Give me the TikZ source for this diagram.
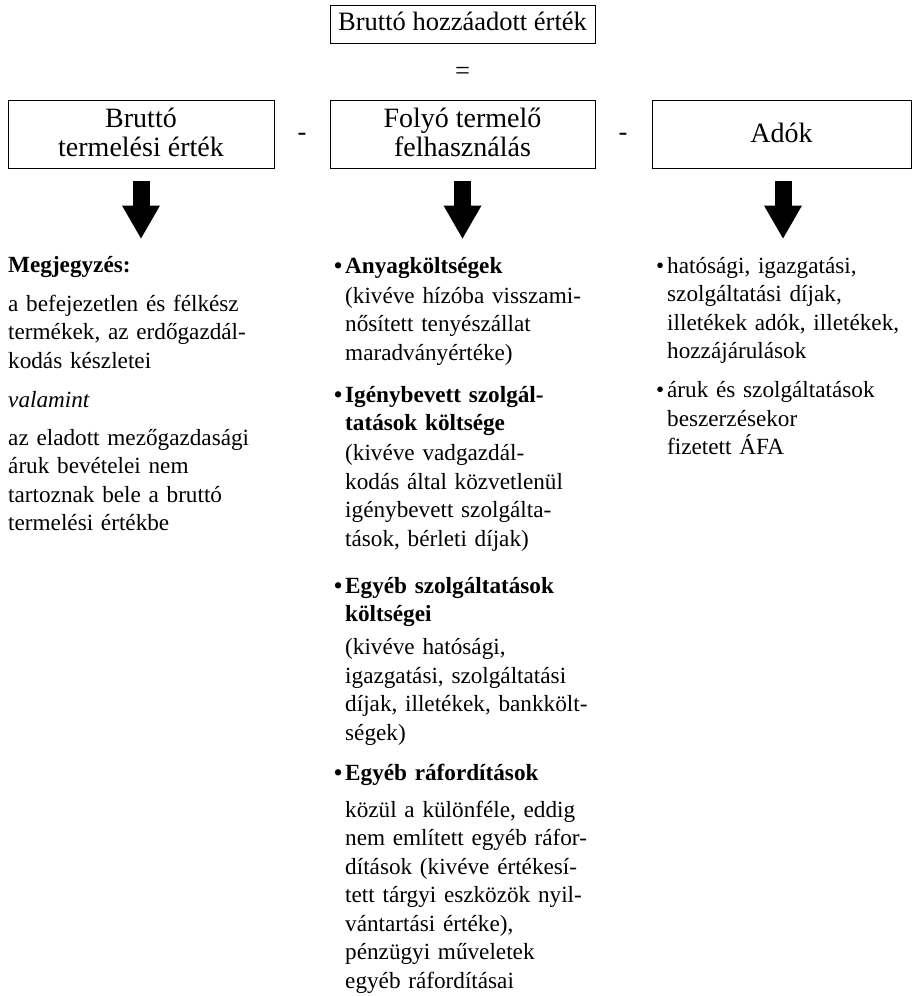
\documentclass[tikz,border=0pt]{standalone}
\usepackage{fontspec}
\setmainfont{Liberation Serif}
\usetikzlibrary{arrows.meta}
\newcommand\onelinebox[1]{\raisebox{0pt}[18.5pt][2.5pt]{#1}}
\newcommand\twolinebox[1]{\raisebox{0pt}[18.5pt][32.5pt]{\parbox[t]{250pt}{\centering #1}}}
\newcommand\bul{\leavevmode\llap{•\hspace{3pt}}}
\begin{document}
\begin{tikzpicture}[x=1pt,y=-1pt,
  box/.style={draw, line width=1pt, inner sep=0pt, minimum height=68pt,
    font=\fontsize{28}{29}\selectfont},
  sym/.style={inner sep=0pt, anchor=base, font=\fontsize{26.5}{29}\selectfont},
  col/.style={inner sep=0pt, anchor=base west, align=left,
    font=\fontsize{23.2}{28.5}\selectfont},
  bigarrow/.style={line width=17pt,
    -{Triangle[length=33pt,width=38pt,line width=0pt]}}]
\useasboundingbox (0,0) rectangle (913,996);

\node[box, minimum width=265pt, minimum height=38pt, font=\fontsize{26.5}{29}\selectfont] (top) at (462.5,24)
  {\raisebox{0pt}[17.5pt][3.9pt]{Bruttó hozzáadott érték}};
\node[sym] (eq) at (462.5,79) {=};

\node[box, minimum width=266pt] (b1) at (141,134) {\twolinebox{Bruttó\\termelési érték}};
\node[sym] (m1) at (302,140) {-};
\node[box, minimum width=265pt] (b2) at (462.5,134) {\twolinebox{Folyó termelő\\felhasználás}};
\node[sym] (m2) at (623,140) {-};
\node[box, minimum width=259pt] (b3) at (781.5,134) {\onelinebox{Adók}};

\node[col, text width=300pt] (t1) at (8,272) {\textbf{Megjegyzés:}\\[10.5pt]
a befejezetlen és félkész\\
termékek, az erdőgazdál-\\
kodás készletei\\[10.5pt]
\textit{valamint}\\[9.5pt]
az eladott mezőgazdasági\\
áruk bevételei nem\\
tartoznak bele a bruttó\\
termelési értékbe};

\node[col, text width=300pt] (t2) at (345,273) {\textbf{\bul Anyagköltségek}\\[1.5pt]
(kivéve hízóba visszami-\\
nősített tenyészállat\\
maradványértéke)\\[13.5pt]
\textbf{\bul Igénybevett szolgál-\\
tatások költsége}\\[1.5pt]
(kivéve vadgazdál-\\
kodás által közvetlenül\\
igénybevett szolgálta-\\
tások, bérleti díjak)\\[18.5pt]
\textbf{\bul Egyéb szolgáltatások\\
költségei}\\[4.5pt]
(kivéve hatósági,\\
igazgatási, szolgáltatási\\
díjak, illetékek, bankkölt-\\
ségek)\\[11.5pt]
\textbf{\bul Egyéb ráfordítások}\\[8.5pt]
közül a különféle, eddig\\
nem említett egyéb ráfor-\\
dítások (kivéve értékesí-\\
tett tárgyi eszközök nyil-\\
vántartási értéke),\\
pénzügyi műveletek\\
egyéb ráfordításai};

\node[col, text width=246pt] (t3) at (667,273) {\bul hatósági, igazgatási,\\
szolgáltatási díjak,\\
illetékek adók, illetékek,\\
hozzájárulások\\[10.5pt]
\bul áruk és szolgáltatások\\
beszerzésekor\\
fizetett ÁFA};

\draw[bigarrow] ([yshift=-12pt]b1.south) -- ([yshift=-70pt]b1.south);
\draw[bigarrow] ([yshift=-12pt]b2.south) -- ([yshift=-70pt]b2.south);
\draw[bigarrow] ([xshift=1.5pt,yshift=-12pt]b3.south) -- ([xshift=1.5pt,yshift=-70pt]b3.south);
\end{tikzpicture}
\end{document}
